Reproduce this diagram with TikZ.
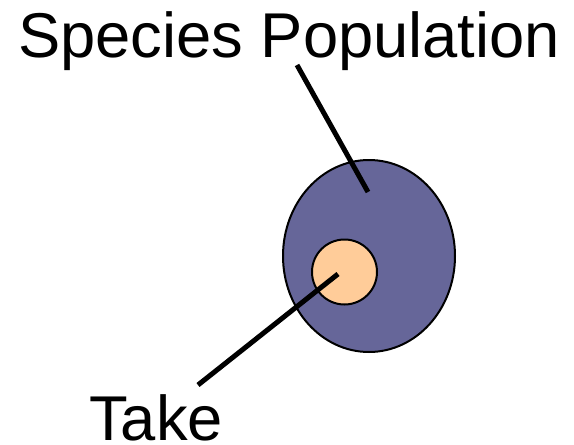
\documentclass[tikz,border=0pt]{standalone}
\usepackage{fontspec}
\setmainfont{Liberation Sans}
\usetikzlibrary{shapes.geometric}
\definecolor{popfill}{HTML}{666699}
\definecolor{takefill}{HTML}{FFCC99}
\begin{document}
\begin{tikzpicture}[x=1pt,y=-1pt,
  lbl/.style={inner sep=0pt,anchor=base west,font=\fontsize{63.3}{70}\selectfont},
  pointer/.style={line width=5pt,black},
  blob/.style={draw=black,line width=2pt}]
\fill[white] (0,0) rectangle (574,445);
\useasboundingbox (0,0) rectangle (574,445);
\node[blob,fill=popfill,ellipse,minimum width=172pt,minimum height=192pt,inner sep=0pt] (pop) at (369,256) {};
\node[blob,fill=takefill,circle,minimum size=65pt,inner sep=0pt] (take) at (344.5,272) {};
\node[lbl] (poplbl) at (18,57) {Species Population};
\node[lbl] (takelbl) at (89,440) {Take};
\coordinate (p1) at (297,65);
\coordinate (p2) at (368,192);
\coordinate (t1) at (198,385);
\coordinate (t2) at (338,274);
\draw[pointer] (p1) -- (p2);
\draw[pointer] (t1) -- (t2);
\end{tikzpicture}
\end{document}
